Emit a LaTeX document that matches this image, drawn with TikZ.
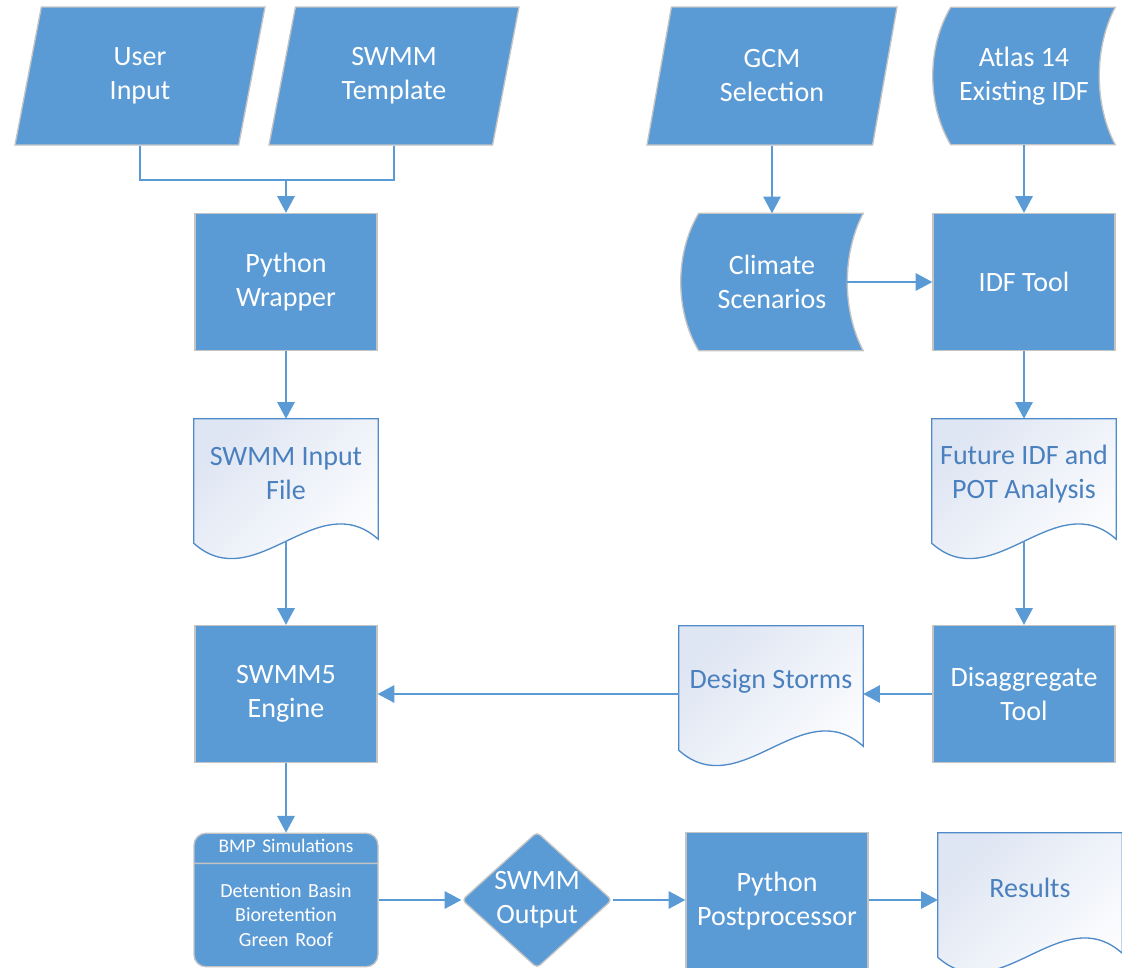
\documentclass[tikz,border=0pt]{standalone}
\usepackage{fontspec}
\setmainfont{Carlito}
\usetikzlibrary{shapes.geometric,shapes.multipart,arrows.meta,backgrounds}

\definecolor{boxblue}{HTML}{5B9BD5}
\definecolor{rimgray}{HTML}{C4C4C4}
\definecolor{docline}{HTML}{4F8BC9}
\definecolor{doctext}{HTML}{4A80BE}
\definecolor{docshade}{HTML}{DFE6F3}

\begin{document}
\begin{tikzpicture}[x=0.75pt, y=-0.75pt, font=\fontsize{21}{25.5}\selectfont,
    proc/.style = {draw=rimgray, line width=1pt, fill=boxblue, text=white, align=center, inner sep=0pt, minimum width=136.5pt, minimum height=102.75pt},
    io/.style = {trapezium, trapezium left angle=65, trapezium right angle=115, trapezium stretches body=true, draw=rimgray, line width=1pt, fill=boxblue, text=white, align=center, inner sep=0pt, minimum width=187.5pt, minimum height=103.5pt},
    stor/.style = {text=white, align=center, inner sep=0pt, minimum width=136.5pt, minimum height=102.75pt},
    doc/.style = {text=doctext, align=center, inner sep=0pt, minimum width=138pt, minimum height=82.5pt},
    bmp/.style = {rectangle split, rectangle split parts=2, draw=rimgray, line width=1pt, fill=boxblue, text=white, rounded corners=9pt, text width=132pt, align=center, inner xsep=3pt, inner ysep=4pt, font=\fontsize{15}{18.4}\selectfont},
    decide/.style = {diamond, aspect=1.1, rounded corners=3pt, draw=rimgray, line width=1pt, fill=boxblue, text=white, align=center, inner sep=0pt, minimum width=112.5pt, minimum height=102pt},
    storfill/.style = {fill=boxblue, draw=rimgray, line width=1pt},
    docfill/.style = {top color=docshade, bottom color=white, shading angle=45, draw=docline, line width=1pt},
    conn/.style = {draw=boxblue, line width=1.5pt},
    flow/.style = {conn, -{Triangle[length=12.5pt, width=13pt]}}]
  \useasboundingbox (0,0) rectangle (1122,968);

  % inputs
  \node[io] (user) at (140,76) {User\\Input};
  \node[io] (tmpl) at (394,76) {SWMM\\Template};
  \node[io] (gcm) at (772,76) {GCM\\Selection};
  \node[stor] (atlas) at (1024,76) {Atlas 14\\Existing IDF};

  % processing
  \node[proc] (wrap) at (286,282) {Python\\Wrapper};
  \node[stor] (clim) at (772,282) {Climate\\Scenarios};
  \node[proc] (idf) at (1024,282) {IDF Tool};
  \node[doc] (inp) at (286,474) {SWMM Input\\File};
  \node[doc] (fut) at (1024,474) {Future IDF and\\POT Analysis};
  \node[proc] (eng) at (286,694) {SWMM5\\Engine};
  \node[doc] (storms) at (771,681) {Design Storms};
  \node[proc] (dis) at (1024,694) {Disaggregate\\Tool};

  % outputs
  \node[bmp] (sim) at (286,900) {{\fontsize{14.5}{17}\selectfont\rule[-3.5pt]{0pt}{13pt}BMP Simulations}
    \nodepart{two}\rule{0pt}{20.75pt}Detention Basin\\Bioretention\\Green Roof\rule[-11pt]{0pt}{0pt}};
  \node[decide] (out) at (537,900) {SWMM\\Output};
  \node[proc] (post) at (777,901) {Python\\Postprocessor};
  \node[doc] (res) at (1030,888) {Results};

  \begin{scope}[on background layer]
    \foreach \s in {atlas, clim} {
      \path[storfill] ([xshift=13.5pt]\s.north west) -- (\s.north east)
        .. controls ([xshift=-16pt, yshift=-30pt]\s.north east) and ([xshift=-16pt, yshift=30pt]\s.south east) .. (\s.south east)
        -- ([xshift=13.5pt]\s.south west)
        .. controls ([xshift=-4.5pt, yshift=30pt]\s.south west) and ([xshift=-4.5pt, yshift=-30pt]\s.north west) .. ([xshift=13.5pt]\s.north west) -- cycle;
    }
    \foreach \d in {inp, fut, storms, res} {
      \path[docfill] (\d.north west) -- (\d.north east) -- ([yshift=-7.5pt]\d.south east)
        .. controls ([xshift=-46pt, yshift=33.5pt]\d.south east) and ([xshift=46pt, yshift=-51.5pt]\d.south west) .. ([yshift=-10.5pt]\d.south west) -- cycle;
    }
  \end{scope}

  \coordinate (join) at (286,180);
  \draw[conn] (user.center |- user.south) |- (join);
  \draw[conn] (tmpl.center |- tmpl.south) |- (join);
  \draw[flow] (join) -- (wrap);
  \draw[flow] (gcm.center |- gcm.south) -- (clim);
  \draw[flow] (atlas) -- (idf);
  \draw[flow] ([xshift=-12pt]clim.east) -- (idf);
  \draw[flow] (wrap) -- (inp);
  \draw[flow] (idf) -- (fut);
  \draw[flow] ([yshift=-9pt]inp.south) -- (eng);
  \draw[flow] ([yshift=-9pt]fut.south) -- (dis);
  \draw[flow] (dis) -- (storms.east |- dis);
  \draw[flow] (storms.west |- dis) -- (eng);
  \draw[flow] (eng) -- (sim);
  \draw[flow] (sim) -- (out);
  \draw[flow] (out) -- (post.west |- out);
  \draw[flow] (post.east |- out) -- (res.west |- out);
\end{tikzpicture}
\end{document}
